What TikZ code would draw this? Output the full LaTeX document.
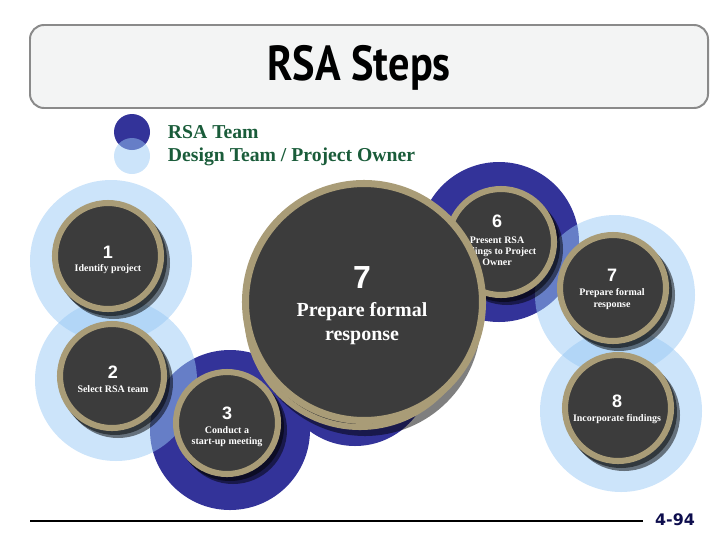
\documentclass[tikz,border=0pt]{standalone}
\usepackage{fontspec}
\setmainfont{Liberation Serif}
\newfontfamily\numfont{Liberation Sans}
\newfontfamily\titlefont{PT Sans}
\newfontfamily\pagefont{DejaVu Sans}
\usepackage{graphicx}
\definecolor{RSANavy}{HTML}{333399}
\definecolor{RSASky}{HTML}{99C9F5}
\definecolor{RSATan}{HTML}{A99C77}
\definecolor{RSACharcoal}{HTML}{3C3C3C}
\definecolor{RSAGreen}{HTML}{1A5C3A}
\definecolor{RSAPage}{HTML}{0D0D4D}
\definecolor{RSABoxFill}{HTML}{F3F4F4}
\definecolor{RSABoxLine}{HTML}{8A8A8A}

\tikzset{
  halodark/.style={fill=RSANavy},
  halolight/.style={fill=RSASky,fill opacity=0.5},
  stepshadow/.style={fill=black,fill opacity=0.5},
  stepdisk/.style={fill=RSACharcoal,draw=RSATan,line width=4.3pt},
  stepnum/.style={text=white,font=\numfont\bfseries\fontsize{12.8}{14}\selectfont},
  steptext/.style={text=white,align=center,font=\bfseries\fontsize{7.1}{8}\selectfont},
}

\begin{document}
\begin{tikzpicture}[x=0.025cm,y=-0.025cm]
  \useasboundingbox (0,0) rectangle (720,540);

  % title bar
  \draw[fill=RSABoxFill,draw=RSABoxLine,line width=1.4pt,rounded corners=10pt]
    (30,25) rectangle (708,108);
  \node[anchor=base,font=\titlefont\bfseries\fontsize{35}{40}\selectfont] (title) at (359,80)
    {\scalebox{0.86}[1]{RSA Steps}};

  % legend
  \coordinate (keyRSA) at (132,132);
  \coordinate (keyDesign) at (132,156);
  \fill[halodark] (keyRSA) circle (18);
  \fill[halolight] (keyDesign) circle (18);
  \node[anchor=base west,text=RSAGreen,font=\bfseries\fontsize{14}{16}\selectfont] (legRSA) at (163,138) {RSA Team};
  \node[anchor=base west,text=RSAGreen,font=\bfseries\fontsize{14}{16}\selectfont] (legDesign) at (163,161) {Design Team / Project Owner};

  % step centres
  \coordinate (c1) at (108,256);
  \coordinate (c2) at (112,376);
  \coordinate (c3) at (227,423);
  \coordinate (c6) at (501,242);
  \coordinate (c7) at (613,288);
  \coordinate (c8) at (618,408);
  \coordinate (cback) at (360,314);
  \coordinate (cbig) at (364,302);

  % halos
  \fill[halodark] (230,430) circle (80);
  \fill[halodark] (355,370) circle (76);
  \fill[halodark] (499,242) circle (80);
  \fill[halolight] (111,261) circle (81);
  \fill[halolight] (116,380) circle (81);
  \fill[halolight] (615,295) circle (80);
  \fill[halolight] (621,411) circle (81);

  % step 6 (partly under the big circle)
  \fill[stepshadow] ([shift={(6,7)}]c6) circle (56);
  \fill[stepshadow] ([shift={(3,4)}]c6) circle (56);
  \draw[stepdisk] (c6) circle (53);
  \node[stepnum] (n6) at (497,221) {6};
  \node[steptext] (t6) at (497,251) {Present RSA\\findings to Project\\Owner};

  % big circle and the one behind it
  \fill[stepshadow] ([shift={(5,6)}]cback) circle (116);
  \draw[stepdisk] (cback) circle (113);
  \draw[stepdisk,line width=5pt] (cbig) circle (118.5);
  \node[text=white,font=\numfont\bfseries\fontsize{22.7}{26}\selectfont] (nbig) at (362,278) {7};
  \node[text=white,align=center,font=\bfseries\fontsize{14.2}{17}\selectfont] (tbig) at (362,324)
    {Prepare formal\\response};

  % step 1
  \fill[stepshadow] ([shift={(6,7)}]c1) circle (56);
  \fill[stepshadow] ([shift={(3,4)}]c1) circle (56);
  \draw[stepdisk] (c1) circle (53);
  \node[stepnum] (n1) at (108,252) {1};
  \node[steptext] (t1) at (108,269) {Identify project};

  % step 2
  \fill[stepshadow] ([shift={(6,7)}]c2) circle (55);
  \fill[stepshadow] ([shift={(3,4)}]c2) circle (55);
  \draw[stepdisk] (c2) circle (52);
  \node[stepnum] (n2) at (113,372) {2};
  \node[steptext] (t2) at (113,389) {Select RSA team};

  % step 3
  \fill[stepshadow] ([shift={(6,7)}]c3) circle (54);
  \fill[stepshadow] ([shift={(3,4)}]c3) circle (54);
  \draw[stepdisk] (c3) circle (51);
  \node[stepnum] (n3) at (227,413) {3};
  \node[steptext] (t3) at (227,437) {Conduct a\\start-up meeting};

  % step 7
  \fill[stepshadow] ([shift={(6,7)}]c7) circle (56);
  \fill[stepshadow] ([shift={(3,4)}]c7) circle (56);
  \draw[stepdisk] (c7) circle (53);
  \node[stepnum] (n7) at (612,275) {7};
  \node[steptext] (t7) at (612,299) {Prepare formal\\response};

  % step 8
  \fill[stepshadow] ([shift={(6,7)}]c8) circle (56);
  \fill[stepshadow] ([shift={(3,4)}]c8) circle (56);
  \draw[stepdisk] (c8) circle (53);
  \node[stepnum] (n8) at (617,401) {8};
  \node[steptext] (t8) at (617,419) {Incorporate findings};

  % footer
  \coordinate (ruleL) at (30,521);
  \coordinate (ruleR) at (643,521);
  \draw[line width=1.1pt] (ruleL) -- (ruleR);
  \node[text=RSAPage,font=\pagefont\bfseries\fontsize{11.3}{13}\selectfont] (pagenum) at (675,520) {4-94};
\end{tikzpicture}
\end{document}
